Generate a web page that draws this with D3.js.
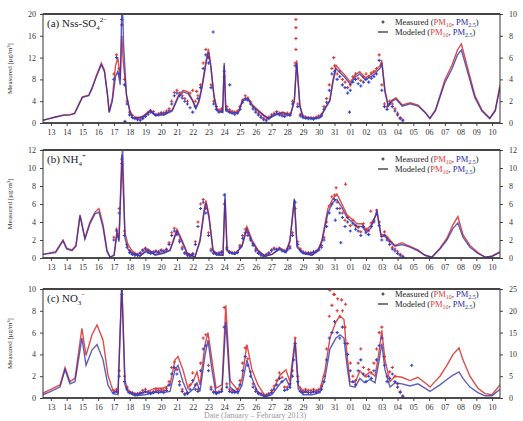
<!DOCTYPE html>
<html>
<head>
<meta charset="utf-8">
<script src="https://cdn.jsdelivr.net/npm/d3@7"></script>
<style>
  body { margin: 0; background: #fff; }
  text { font-family: "Liberation Serif", "DejaVu Serif", serif; }
</style>
</head>
<body>
<div id="chart"></div>
<script>
// ---------Data----------
// time is "day of January" (32 = 01 Feb), x tick labels sit at day centres
const dayLabels = ["13","14","15","16","17","18","19","20","21","22","23","24","25","26","27","28","29","30","31",
                   "01","02","03","04","05","06","07","08","09","10"];
const firstDay = 13;

// measured values: one value every 4 h starting 17.5
const measStart = 17.5;
const measStep = 1 / 6;

// (a) Nss-SO4 2-
const ticksLeftA = [0, 4, 8, 12, 16, 20];
const ticksRightA = [0, 2, 4, 6, 8, 10];
const modPM10A = [[13.0,0.5],[13.4,0.8],[13.8,1.1],[14.3,1.5],[14.7,1.5],[15.0,1.8],[15.2,3.0],[15.5,4.8],[15.9,5.1],[16.1,6.4],[16.4,8.8],[16.7,11.0],[16.9,9.7],[17.1,5.1],[17.2,2.0],[17.4,4.5],[17.6,10.5],[17.75,12.0],[17.9,8.0],[18.0,16],[18.1,11],[18.3,5.1],[18.5,2.4],[18.7,1.0],[19.2,1.1],[19.5,1.5],[19.8,2.4],[20.1,1.5],[20.7,1.6],[21.2,2.4],[21.6,5.1],[21.9,6.0],[22.2,5.7],[22.5,4.2],[22.7,2.8],[22.9,4.2],[23.1,7.0],[23.35,11.5],[23.5,13.6],[23.65,10.6],[23.85,5.1],[24.05,2.4],[24.4,2.0],[24.5,10.6],[24.6,2.4],[25.0,2.0],[25.4,2.0],[25.65,4.2],[26.0,4.6],[26.3,3.3],[26.65,2.4],[27.0,1.5],[27.3,0.9],[27.7,1.5],[28.2,2.0],[28.7,1.5],[28.95,4.2],[29.1,11.5],[29.3,3.3],[29.5,1.1],[30.1,0.9],[30.6,1.1],[30.9,2.8],[31.2,4.2],[31.4,7.9],[31.6,10.6],[31.85,9.7],[32.15,8.8],[32.5,7.5],[32.8,8.8],[33.1,9.4],[33.45,8.3],[33.75,8.8],[34.05,9.4],[34.4,10.6],[34.5,11.5],[34.7,6.0],[34.9,3.3],[35.15,4.2],[35.4,4.6],[35.8,3.3],[36.3,3.7],[36.8,3.3],[37.25,2.0],[37.55,0.9],[37.9,2.4],[38.2,5.1],[38.5,7.9],[38.95,10.6],[39.3,13.4],[39.55,14.5],[39.9,10.6],[40.4,5.1],[40.85,2.4],[41.35,0.9],[41.7,2.4],[42.0,7.0]];
const modPM25A = [[13.0,0.5],[13.4,0.8],[13.8,1.1],[14.3,1.4],[14.7,1.5],[15.0,1.7],[15.2,2.9],[15.5,4.7],[15.9,5.0],[16.1,6.2],[16.4,8.6],[16.7,10.7],[16.9,9.4],[17.1,4.9],[17.2,1.9],[17.4,4.0],[17.6,8.5],[17.75,9.5],[17.9,7.0],[18.02,24],[18.12,14],[18.3,5.0],[18.5,2.2],[18.7,0.9],[19.2,1.0],[19.5,1.4],[19.8,2.3],[20.1,1.4],[20.7,1.5],[21.2,2.2],[21.6,4.8],[21.9,5.7],[22.2,5.4],[22.5,4.0],[22.7,2.6],[22.9,3.9],[23.1,6.6],[23.35,11.0],[23.5,13.0],[23.65,10.2],[23.85,4.8],[24.05,2.2],[24.4,1.9],[24.5,11.0],[24.6,2.2],[25.0,1.8],[25.4,1.9],[25.65,4.0],[26.0,4.4],[26.3,3.1],[26.65,2.2],[27.0,1.4],[27.3,0.8],[27.7,1.4],[28.2,1.9],[28.7,1.4],[28.95,4.0],[29.1,11.0],[29.3,3.1],[29.5,1.0],[30.1,0.8],[30.6,1.0],[30.9,2.6],[31.2,4.0],[31.4,7.5],[31.6,10.0],[31.85,9.2],[32.15,8.4],[32.5,7.1],[32.8,8.4],[33.1,9.0],[33.45,7.9],[33.75,8.4],[34.05,9.0],[34.4,10.1],[34.5,11.0],[34.7,5.7],[34.9,3.1],[35.15,4.0],[35.4,4.4],[35.8,3.1],[36.3,3.5],[36.8,3.1],[37.25,1.9],[37.55,0.8],[37.9,2.2],[38.2,4.8],[38.5,7.4],[38.95,9.9],[39.3,12.5],[39.55,13.4],[39.9,9.8],[40.4,4.7],[40.85,2.2],[41.35,0.8],[41.7,2.2],[42.0,6.5]];
const measPM10A = [9,12.5,10, 18,8,4, 2,1.4,1.0,
  0.8,0.7,1.0,1.5,1.9,2.3, 2.1,1.6,1.7,1.9,1.9,2.2, 2.6,4.0,5.6,6.0,5.5,5.0, 4.5,4.0,5.5,6.0,4.0,5.0,
  7.0,11.0,13.5,12.0,7.0,4.0, 3.0,2.4,2.6,8.5,3.0,2.4, 2.2,2.0,2.2,3.0,4.2,5.0, 4.6,3.9,3.0,2.4,1.8,1.3,
  0.9,0.7,1.1,1.5,1.8,2.1, 1.8,1.6,1.5,1.8,1.7,4.0, 11.0,3.5,1.6,1.3,1.1,1.0, 1.0,0.9,1.1,1.3,1.6,3.0,
  4.5,7.0,10.0,10.5,9.0,9.5, 8.0,7.5,6.5,7.0,8.5,9.0, 8.2,7.8,8.5,9.0,8.5,9.2, 9.5,10.0,12.5,7.0,3.5,3.0,
  4.0,3.5,2.6,1.8,1.0,0.6];
const measPM25A = [8,12,9, 19,7,3.5, 1.5,1.0,0.8,
  0.6,0.5,0.8,1.2,1.6,2.0, 1.8,1.4,1.5,1.7,1.6,1.9, 2.2,3.5,5.0,5.5,5.0,4.6, 4.0,3.5,2.8,2.0,3.0,4.5,
  6.5,10.0,12.5,11.0,6.5,3.5, 2.5,2.0,2.2,9.5,2.5,2.0, 1.8,1.6,1.8,2.5,3.8,4.5, 4.2,3.5,2.6,2.0,1.5,1.0,
  0.6,0.4,0.8,1.2,1.5,1.8, 1.5,1.3,1.2,1.5,1.4,3.5, 10.5,3.0,1.3,1.0,0.9,0.8, 0.8,0.7,0.9,1.0,1.3,2.5,
  3.8,6.0,9.0,9.5,8.0,8.5, 7.0,6.5,5.5,6.0,7.5,8.0, 7.2,6.8,7.5,8.0,7.5,8.2, 8.5,9.0,11.5,6.0,3.0,2.5,
  3.5,3.0,2.2,1.5,0.8,0.4];
const extraPM10A = [[29.05,19.0],[29.05,17.5],[29.05,15.5],[29.05,13.5],[31.45,12.0],[22.75,5.8]];
const extraPM25A = [[23.8,16.7],[24.85,7.0],[32.45,2.0],[18.2,0.3]];

// (b) NH4+
const ticksLeftB = [0, 2, 4, 6, 8, 10, 12];
const ticksRightB = [0, 2, 4, 6, 8, 10, 12];
const modPM10B = [[13.0,0.4],[13.8,0.7],[14.27,2.0],[14.5,1.1],[14.84,0.9],[15.09,1.4],[15.35,4.8],[15.66,2.2],[15.98,4.0],[16.3,5.1],[16.55,5.5],[16.81,3.7],[17.06,0.9],[17.25,0.1],[17.51,0.3],[17.7,3.1],[17.82,2.0],[18.0,11.5],[18.2,2.8],[18.39,1.5],[18.65,0.8],[19.15,0.2],[19.66,1.0],[20.11,0.4],[20.61,0.6],[21.06,0.9],[21.5,3.2],[21.82,2.0],[22.14,0.6],[22.64,0.1],[22.96,2.0],[23.22,5.3],[23.34,6.4],[23.53,4.8],[23.79,0.9],[24.1,0.4],[24.42,0.3],[24.55,6.5],[24.68,0.9],[25.18,0.4],[25.63,1.4],[25.94,3.5],[26.26,2.0],[26.64,0.9],[27.09,0.2],[27.53,0.4],[28.04,1.1],[28.42,0.7],[28.67,2.0],[28.95,6.4],[29.12,1.4],[29.5,0.6],[30.07,0.3],[30.45,0.9],[30.7,2.0],[31.08,5.5],[31.4,6.6],[31.65,7.1],[31.97,6.0],[32.29,4.8],[32.61,4.3],[32.92,3.8],[33.24,3.8],[33.5,3.1],[33.8,3.6],[34.2,5.0],[34.45,2.6],[34.7,2.6],[35.02,2.0],[35.34,1.4],[35.78,1.7],[36.29,1.3],[36.79,0.9],[37.24,0.3],[37.68,0.1],[38.19,1.1],[38.63,2.2],[39.02,3.7],[39.33,4.6],[39.65,2.6],[40.09,1.4],[40.6,0.6],[41.05,0.1],[41.49,0.2],[42.0,0.7]];
const modPM25B = [[13.0,0.4],[13.8,0.6],[14.27,1.9],[14.5,1.0],[14.84,0.8],[15.09,1.3],[15.35,4.7],[15.66,2.1],[15.98,3.8],[16.3,4.9],[16.55,5.1],[16.81,3.4],[17.06,0.7],[17.25,0.1],[17.51,0.3],[17.7,2.8],[17.82,1.8],[18.05,12.5],[18.2,2.2],[18.39,1.0],[18.65,0.6],[19.15,0.2],[19.66,0.9],[20.11,0.3],[20.61,0.5],[21.06,0.8],[21.5,3.0],[21.82,1.8],[22.14,0.5],[22.64,0.1],[22.96,1.8],[23.22,5.0],[23.34,6.1],[23.53,4.5],[23.79,0.8],[24.1,0.3],[24.42,0.3],[24.55,7.2],[24.68,0.8],[25.18,0.4],[25.63,1.3],[25.94,3.2],[26.26,1.8],[26.64,0.8],[27.09,0.2],[27.53,0.4],[28.04,1.0],[28.42,0.6],[28.67,1.8],[28.95,6.6],[29.12,1.2],[29.5,0.5],[30.07,0.3],[30.45,0.8],[30.7,1.8],[31.08,5.0],[31.4,6.2],[31.65,6.5],[31.97,5.6],[32.29,4.5],[32.61,4.0],[32.92,3.5],[33.24,3.5],[33.5,2.9],[33.8,3.3],[34.2,5.2],[34.45,2.4],[34.7,2.4],[35.02,1.8],[35.34,1.3],[35.78,1.5],[36.29,1.2],[36.79,0.8],[37.24,0.3],[37.68,0.1],[38.19,1.0],[38.63,2.0],[39.02,3.3],[39.33,3.9],[39.65,2.3],[40.09,1.2],[40.6,0.5],[41.05,0.1],[41.49,0.2],[42.0,0.6]];
const measPM10B = [2.3,3.2,5.5, 10.5,3.0,1.5, 0.8,0.5,0.4,
  0.4,0.6,0.9,1.1,0.7,0.6, 0.7,0.8,0.7,0.9,0.8,1.0, 1.7,2.8,3.3,2.9,2.0,1.2, 0.6,0.4,0.3,0.5,1.8,4.0,
  6.0,6.5,5.5,2.8,1.0,0.6, 0.5,0.6,0.7,6.0,1.2,0.7, 0.6,0.6,0.7,1.4,2.5,3.2, 2.8,2.2,1.6,1.0,0.6,0.4,
  0.3,0.4,0.6,0.9,1.1,1.0, 1.1,0.9,0.8,1.0,1.3,2.8, 5.5,1.8,1.0,0.7,0.6,0.6, 0.6,0.7,0.8,1.0,1.4,2.3,
  4.0,5.8,6.8,7.0,6.2,5.5, 5.0,4.2,4.5,3.6,4.2,3.6, 3.4,2.9,3.8,3.2,3.0,3.9, 4.2,5.3,4.0,2.4,2.9,2.3,
  1.8,1.2,1.0,0.7,0.4,0.2];
const measPM25B = [2.0,3.0,5.0, 11.0,2.5,1.2, 0.6,0.4,0.3,
  0.3,0.5,0.8,1.0,0.6,0.5, 0.6,0.7,0.6,0.8,0.7,0.9, 1.5,2.5,3.0,2.6,1.8,1.0, 0.5,0.3,0.2,0.4,1.5,3.5,
  5.5,6.2,5.0,2.5,0.8,0.5, 0.4,0.5,0.6,7.0,1.0,0.6, 0.5,0.5,0.6,1.2,2.2,2.8, 2.5,2.0,1.4,0.8,0.5,0.3,
  0.2,0.3,0.5,0.8,1.0,0.9, 1.0,0.8,0.7,0.9,1.1,2.5, 6.2,1.5,0.8,0.6,0.5,0.5, 0.5,0.6,0.7,0.9,1.2,2.0,
  3.5,5.0,6.0,6.5,5.5,5.0, 4.5,3.5,4.0,3.0,3.8,3.2, 3.0,2.5,3.5,2.8,2.6,3.5, 4.0,5.0,3.6,2.0,2.5,2.0,
  1.5,1.0,0.8,0.5,0.3,0.1];
const extraPM10B = [[32.2,8.2],[31.6,7.8],[33.8,5.2]];
const extraPM25B = [[31.9,1.7],[31.55,4.2]];

// (c) NO3-
const ticksLeftC = [0, 2, 4, 6, 8, 10];
const ticksRightC = [0, 5, 10, 15, 20, 25];
const modPM10C = [[13.0,0.45],[13.5,0.8],[14.08,1.2],[14.4,2.8],[14.71,1.5],[15.03,1.8],[15.47,6.4],[15.73,3.9],[16.11,5.8],[16.43,6.7],[16.81,5.3],[17.12,2.1],[17.44,0.7],[17.76,0.45],[18.0,10.5],[18.2,1.6],[18.39,0.7],[18.84,0.3],[19.47,0.5],[20.11,0.9],[20.61,0.9],[21.06,1.2],[21.38,3.5],[21.57,3.8],[21.88,2.6],[22.2,0.9],[22.52,1.5],[22.77,2.4],[22.96,1.2],[23.28,4.9],[23.47,6.0],[23.72,3.5],[23.98,0.9],[24.36,1.2],[24.6,8.5],[24.87,1.6],[25.37,0.7],[25.63,1.8],[25.94,4.9],[26.26,2.6],[26.64,1.2],[27.09,0.2],[27.53,0.55],[28.04,2.1],[28.42,2.6],[28.67,1.5],[29.0,5.5],[29.2,1.2],[29.5,0.5],[30.07,0.5],[30.58,0.8],[30.89,2.5],[31.21,5.5],[31.59,7.0],[31.85,7.5],[32.1,7.2],[32.29,4.0],[32.48,1.5],[32.8,1.4],[33.11,2.5],[33.4,2.0],[33.75,2.4],[34.07,2.0],[34.3,4.0],[34.5,6.2],[34.7,3.5],[35.02,1.5],[35.34,2.0],[35.78,1.9],[36.29,1.6],[36.79,1.9],[37.24,1.4],[37.56,1.0],[37.87,1.5],[38.19,2.0],[38.63,3.0],[39.02,4.0],[39.4,4.6],[39.65,3.5],[40.09,2.0],[40.6,0.9],[41.05,0.4],[41.49,0.3],[42.0,1.2]];
const modPM25C = [[13.0,0.3],[13.5,0.6],[14.08,1.0],[14.4,2.6],[14.71,1.3],[15.03,1.5],[15.47,5.5],[15.73,3.0],[16.11,4.4],[16.43,4.9],[16.81,3.5],[17.12,1.2],[17.44,0.4],[17.76,0.3],[18.0,10.5],[18.2,1.2],[18.39,0.5],[18.84,0.2],[19.47,0.3],[20.11,0.5],[20.61,0.5],[21.06,0.6],[21.38,2.6],[21.57,3.0],[21.88,1.5],[22.2,0.4],[22.52,0.8],[22.77,1.4],[22.96,0.6],[23.28,3.9],[23.47,5.3],[23.72,2.6],[23.98,0.4],[24.36,0.6],[24.6,7.0],[24.87,1.0],[25.37,0.4],[25.63,1.2],[25.94,3.5],[26.26,1.8],[26.64,0.5],[27.09,0.1],[27.53,0.3],[28.04,1.3],[28.42,1.8],[28.67,1.0],[29.0,5.0],[29.2,0.8],[29.5,0.3],[30.07,0.3],[30.58,0.5],[30.89,1.8],[31.21,4.5],[31.59,5.5],[31.85,5.8],[32.1,5.5],[32.29,3.0],[32.48,1.1],[32.8,1.0],[33.11,1.8],[33.4,1.4],[33.75,1.7],[34.07,1.4],[34.3,3.2],[34.5,5.0],[34.7,2.6],[35.02,1.0],[35.34,1.4],[35.78,1.3],[36.29,1.1],[36.79,1.3],[37.24,0.9],[37.56,0.6],[37.87,0.9],[38.19,1.2],[38.63,1.7],[39.02,2.1],[39.4,2.4],[39.65,1.8],[40.09,1.0],[40.6,0.5],[41.05,0.2],[41.49,0.2],[42.0,0.8]];
const measPM10C = [0.7,0.8,2.5, 10,2.0,1.0, 0.6,0.5,0.4,
  0.4,0.5,0.7,0.8,0.6,0.5, 0.6,0.8,0.7,0.8,0.7,0.9, 1.5,2.8,3.3,2.6,1.5,0.8, 0.4,0.5,1.2,2.3,1.2,0.8,
  3.2,5.5,5.8,3.0,1.0,0.6, 0.5,0.6,0.8,8.3,1.3,0.8, 0.7,0.6,0.8,1.6,3.2,4.6, 3.6,2.4,1.3,0.8,0.5,0.4,
  0.3,0.3,0.4,0.7,1.1,1.6, 2.3,1.9,1.0,1.0,1.3,2.5, 5.5,2.0,0.9,0.7,0.8,0.7, 0.7,0.8,0.7,0.8,1.1,2.0,
  4.5,7.5,8.5,9.5,8.0,7.5, 8.0,6.5,5.0,3.2,2.0,1.6, 3.2,4.5,2.8,2.0,2.6,2.3, 3.2,4.5,6.0,6.5,3.8,2.0,
  2.4,2.8,2.0,1.3,0.6,0.2];
const measPM25C = [0.5,0.6,2.0, 9.5,1.5,0.8, 0.5,0.4,0.3,
  0.3,0.4,0.5,0.6,0.5,0.4, 0.5,0.6,0.5,0.6,0.5,0.7, 1.2,2.2,2.8,2.2,1.2,0.6, 0.3,0.4,0.8,1.6,0.8,0.6,
  2.5,4.5,4.8,2.5,0.8,0.5, 0.4,0.5,0.6,6.5,1.0,0.6, 0.5,0.5,0.6,1.2,2.5,3.8, 3.0,2.0,1.0,0.6,0.4,0.3,
  0.2,0.2,0.3,0.5,0.8,1.2, 1.8,1.5,0.7,0.8,1.0,2.0, 5.0,1.5,0.6,0.5,0.6,0.5, 0.5,0.6,0.5,0.6,0.8,1.5,
  3.5,5.5,6.0,7.0,6.0,5.5, 6.5,5.0,4.0,2.5,1.5,1.2, 2.5,3.5,2.2,1.5,2.0,1.8, 2.5,3.5,4.8,5.5,3.0,1.5,
  1.8,2.2,1.5,1.0,0.5,0.1];
const extraPM10C = [[31.2,9.9],[31.45,9.5],[31.7,9.1],[31.95,9.0],[32.2,8.6]];
const extraPM25C = [[28.9,3.5],[36.4,3.0]];

// ---------Layout----------
const width = 523, height = 421;
const plotLeft = 43, plotRight = 500;
const red = "#d93a36", blue = "#2a2aa6", bluePts = "#3342cc";

const svg = d3.select("#chart").append("svg")
  .attr("width", width)
  .attr("height", height);

const x = d3.scaleLinear()
  .domain([firstDay, firstDay + dayLabels.length])
  .range([plotLeft, plotRight]);
const tickDays = dayLabels.map((d, i) => firstDay + i + 0.5);

const panels = [
  { id: "a", top: 14, bottom: 123, leftTicks: ticksLeftA, rightTicks: ticksRightA,
    mod10: modPM10A, mod25: modPM25A, meas10: measPM10A, meas25: measPM25A, ex10: extraPM10A, ex25: extraPM25A,
    title: ["(a) Nss-SO", "4", "2\u2212"], legY: 11 },
  { id: "b", top: 150, bottom: 258, leftTicks: ticksLeftB, rightTicks: ticksRightB,
    mod10: modPM10B, mod25: modPM25B, meas10: measPM10B, meas25: measPM25B, ex10: extraPM10B, ex25: extraPM25B,
    title: ["(b) NH", "4", "+"], legY: 12 },
  { id: "c", top: 289, bottom: 398, leftTicks: ticksLeftC, rightTicks: ticksRightC,
    mod10: modPM10C, mod25: modPM25C, meas10: measPM10C, meas25: measPM25C, ex10: extraPM10C, ex25: extraPM25C,
    title: ["(c) NO", "3", "\u2212"], legY: 8 }
];

const crossPath = "M-1.6,0H1.6M0,-1.6V1.6";

panels.forEach(p => {
  const y = d3.scaleLinear()
    .domain([0, d3.max(p.leftTicks)])
    .range([p.bottom, p.top]);
  const yR = d3.scaleLinear()
    .domain([0, d3.max(p.rightTicks)])
    .range([p.bottom, p.top]);

  // clip so spikes stop at the frame
  svg.append("clipPath").attr("id", "clip" + p.id)
    .append("rect")
    .attr("x", plotLeft).attr("y", p.top)
    .attr("width", plotRight - plotLeft).attr("height", p.bottom - p.top);

  const g = svg.append("g").attr("clip-path", `url(#clip${p.id})`);

  const line = d3.line()
    .x(d => x(d[0]))
    .y(d => y(d[1]));

  // measured points
  const toPts = vals => vals.map((v, i) => [measStart + i * measStep, v]);
  const drawPts = (pts, color) => {
    g.selectAll(null)
      .data(pts)
      .enter()
      .append("path")
      .attr("d", crossPath)
      .attr("transform", d => `translate(${x(d[0])},${y(d[1])})`)
      .attr("stroke", color)
      .attr("stroke-width", 1.1)
      .attr("fill", "none");
  };
  drawPts(toPts(p.meas10).concat(p.ex10), red);

  // modeled lines
  g.append("path").datum(p.mod10)
    .attr("d", line)
    .attr("fill", "none")
    .attr("stroke", red)
    .attr("stroke-width", 1.4)
    .attr("stroke-opacity", 0.9);
  g.append("path").datum(p.mod25)
    .attr("d", line)
    .attr("fill", "none")
    .attr("stroke", blue)
    .attr("stroke-width", 1.4)
    .attr("stroke-opacity", 0.75);

  drawPts(toPts(p.meas25).concat(p.ex25), bluePts);

  // axes
  const axL = svg.append("g")
    .attr("transform", `translate(${plotLeft},0)`)
    .call(d3.axisLeft(y).tickValues(p.leftTicks).tickSize(3).tickPadding(4));
  const axR = svg.append("g")
    .attr("transform", `translate(${plotRight},0)`)
    .call(d3.axisRight(yR).tickValues(p.rightTicks).tickSize(3).tickPadding(6));
  const axB = svg.append("g")
    .attr("transform", `translate(0,${p.bottom})`)
    .call(d3.axisBottom(x).tickValues(tickDays).tickFormat((d, i) => dayLabels[i]).tickSize(3).tickPadding(3));
  [axL, axR, axB].forEach(a => {
    a.select(".domain").remove();
    a.selectAll("text").style("font-size", "8px").attr("fill", "#333");
    a.selectAll("line").attr("stroke", "#444");
  });

  // frame
  svg.append("rect")
    .attr("x", plotLeft).attr("y", p.top)
    .attr("width", plotRight - plotLeft).attr("height", p.bottom - p.top)
    .attr("fill", "none")
    .attr("stroke", "#333")
    .attr("stroke-width", 1);
  svg.append("line")
    .attr("x1", plotLeft).attr("x2", plotRight)
    .attr("y1", p.top).attr("y2", p.top)
    .attr("stroke", "#444").attr("stroke-width", 2);
  svg.append("line")
    .attr("x1", plotLeft).attr("x2", plotRight)
    .attr("y1", p.bottom).attr("y2", p.bottom)
    .attr("stroke", "#333").attr("stroke-width", 1.6);

  // panel title
  const t = svg.append("text")
    .attr("x", plotLeft + 4)
    .attr("y", p.top + 13)
    .style("font-size", "11px")
    .attr("fill", "#222");
  t.append("tspan").text(p.title[0]);
  t.append("tspan").text(p.title[1]).attr("dy", 3).style("font-size", "7px");
  t.append("tspan").text(p.title[2]).attr("dy", -8).style("font-size", "7px");

  // y title
  svg.append("text")
    .attr("transform", `translate(12,${(p.top + p.bottom) / 2}) rotate(-90)`)
    .attr("text-anchor", "middle")
    .style("font-size", "7px")
    .attr("fill", "#333")
    .text("Measured [\u03bcg/m\u00b3]");

  // legend
  const lx = 383, ly1 = p.top + p.legY, ly2 = ly1 + 10;
  svg.append("path")
    .attr("d", crossPath)
    .attr("transform", `translate(${lx},${ly1 - 3})`)
    .attr("stroke", "#223").attr("stroke-width", 1);
  svg.append("line")
    .attr("x1", lx - 5).attr("x2", lx + 5)
    .attr("y1", ly2 - 3).attr("y2", ly2 - 3)
    .attr("stroke", "#223").attr("stroke-width", 1.2);
  [["Measured", ly1], ["Modeled", ly2]].forEach(([lab, ly]) => {
    const lt = svg.append("text")
      .attr("x", lx + 12).attr("y", ly)
      .style("font-size", "8.5px")
      .attr("fill", "#222");
    lt.append("tspan").text(lab + " (");
    lt.append("tspan").text("PM").attr("fill", red);
    lt.append("tspan").text("10").attr("fill", red).attr("dy", 2).style("font-size", "6px");
    lt.append("tspan").text(", ").attr("dy", -2);
    lt.append("tspan").text("PM").attr("fill", blue);
    lt.append("tspan").text("2.5").attr("fill", blue).attr("dy", 2).style("font-size", "6px");
    lt.append("tspan").text(")").attr("dy", -2);
  });
});

// x axis title
svg.append("text")
  .attr("x", 255)
  .attr("y", 418)
  .attr("text-anchor", "middle")
  .style("font-size", "8px")
  .attr("fill", "#999")
  .text("Date (January \u2013 February 2013)");
</script>
</body>
</html>
